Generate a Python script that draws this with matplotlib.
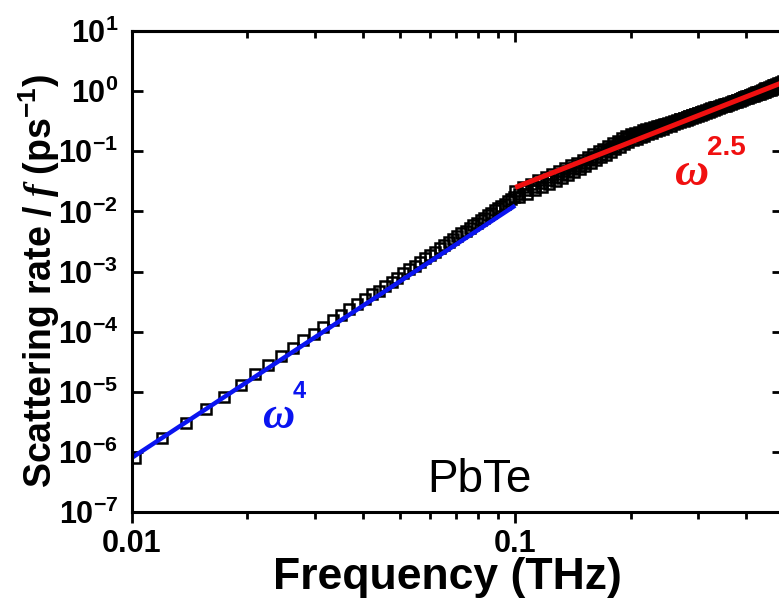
import numpy as np
import matplotlib
matplotlib.use('Agg')
import matplotlib.pyplot as plt
from matplotlib.ticker import FuncFormatter, NullFormatter, NullLocator, LogLocator

plt.rcParams['font.family'] = ['Liberation Sans', 'DejaVu Sans']
plt.rcParams['mathtext.fontset'] = 'custom'
plt.rcParams['mathtext.rm'] = 'Liberation Sans'
plt.rcParams['mathtext.bf'] = 'Liberation Sans:bold'
plt.rcParams['mathtext.it'] = 'Liberation Serif:italic:bold'

# --- low-frequency points (single branch), THz and ps^-1 ---
freq_low = [0.0102, 0.0120, 0.0138, 0.0156, 0.0174, 0.0192, 0.0209, 0.0227, 0.0245, 0.0263,
            0.0280, 0.0298, 0.0316, 0.0334, 0.0351, 0.0369, 0.0387, 0.0405, 0.0422, 0.0440,
            0.0458, 0.0476, 0.0493, 0.0511, 0.0529, 0.0547, 0.0565, 0.0582, 0.0600, 0.0618,
            0.0636, 0.0653, 0.0671, 0.0689, 0.0707, 0.0724, 0.0742, 0.0760, 0.0778, 0.0796,
            0.0813, 0.0831, 0.0849, 0.0867, 0.0884, 0.0902, 0.0920, 0.0938, 0.0955, 0.0973,
            0.0991]
rate_low = [7.8e-7, 1.7e-6, 3.0e-6, 5.2e-6, 8.3e-6, 1.3e-5, 1.95e-5, 2.8e-5, 3.9e-5, 5.4e-5,
            7.2e-5, 9.2e-5, 1.2e-4, 1.55e-4, 1.9e-4, 2.4e-4, 2.9e-4, 3.5e-4, 4.15e-4, 4.8e-4,
            5.8e-4, 6.8e-4, 7.9e-4, 9.3e-4, 1.08e-3, 1.25e-3, 1.44e-3, 1.65e-3, 1.88e-3, 2.14e-3,
            2.43e-3, 2.73e-3, 3.08e-3, 3.46e-3, 3.87e-3, 4.30e-3, 4.80e-3, 5.33e-3, 5.90e-3, 6.53e-3,
            7.16e-3, 7.89e-3, 8.67e-3, 9.51e-3, 1.04e-2, 1.13e-2, 1.24e-2, 1.35e-2, 1.46e-2, 1.58e-2,
            1.71e-2]

# --- high-frequency points, upper branch ---
freq_up = [0.100, 0.105, 0.110, 0.115, 0.120, 0.125, 0.130, 0.135, 0.140, 0.145,
           0.150, 0.155, 0.160, 0.165, 0.170, 0.175, 0.180, 0.185, 0.190, 0.195,
           0.200, 0.205, 0.210, 0.215, 0.220, 0.225, 0.230, 0.235, 0.240, 0.245,
           0.250, 0.255, 0.260, 0.265, 0.270, 0.275, 0.280, 0.285, 0.290, 0.295,
           0.300, 0.305, 0.310, 0.315, 0.320, 0.325, 0.330, 0.335, 0.340, 0.345,
           0.350, 0.355, 0.360, 0.365, 0.370, 0.375, 0.380, 0.385, 0.390, 0.395,
           0.400, 0.405, 0.410, 0.415, 0.420, 0.425, 0.430, 0.435, 0.440, 0.445,
           0.450, 0.455, 0.460, 0.465, 0.470, 0.475, 0.480, 0.485, 0.490, 0.495,
           0.500]
rate_up = [0.0219, 0.0252, 0.0289, 0.0329, 0.0373, 0.0420, 0.0471, 0.0526, 0.0585, 0.0649,
           0.0721, 0.0807, 0.0901, 0.1002, 0.111, 0.123, 0.1355, 0.149, 0.163, 0.1786,
           0.194, 0.2035, 0.213, 0.223, 0.233, 0.243, 0.2535, 0.264, 0.275, 0.286,
           0.297, 0.308, 0.320, 0.332, 0.344, 0.357, 0.371, 0.384, 0.398, 0.412,
           0.427, 0.442, 0.457, 0.472, 0.488, 0.503, 0.519, 0.535, 0.552, 0.568,
           0.585, 0.602, 0.620, 0.639, 0.662, 0.686, 0.711, 0.736, 0.761, 0.787,
           0.814, 0.841, 0.869, 0.897, 0.925, 0.955, 0.985, 1.015, 1.047, 1.078,
           1.110, 1.143, 1.177, 1.211, 1.245, 1.280, 1.316, 1.353, 1.390, 1.428,
           1.467]

# --- high-frequency points, lower and middle branches (same frequencies) ---
freq_lo = [0.1025, 0.1075, 0.1125, 0.1175, 0.1225, 0.1275, 0.1325, 0.1375, 0.1425, 0.1475,
           0.1525, 0.1575, 0.1625, 0.1675, 0.1725, 0.1775, 0.1825, 0.1875, 0.1925, 0.1975,
           0.2025, 0.2075, 0.2125, 0.2175, 0.2225, 0.2275, 0.2325, 0.2375, 0.2425, 0.2475,
           0.255, 0.260, 0.265, 0.270, 0.275, 0.280, 0.285, 0.290, 0.295, 0.300,
           0.305, 0.310, 0.315, 0.320, 0.325, 0.330, 0.335, 0.340, 0.345, 0.350,
           0.355, 0.360, 0.365, 0.370, 0.375, 0.380, 0.385, 0.390, 0.395, 0.400,
           0.405, 0.410, 0.415, 0.420, 0.425, 0.430, 0.435, 0.440, 0.445, 0.450,
           0.455, 0.460, 0.465, 0.470, 0.475, 0.480, 0.485, 0.490, 0.495, 0.500]
rate_lo = [0.01706, 0.01963, 0.02249, 0.02555, 0.0289, 0.0326, 0.0365, 0.0407, 0.0453, 0.0502,
           0.0565, 0.0634, 0.0708, 0.0790, 0.0878, 0.0973, 0.1074, 0.1183, 0.130, 0.1426,
           0.1532, 0.1626, 0.1722, 0.1823, 0.1923, 0.2030, 0.2138, 0.2253, 0.2367, 0.2487,
           0.2673, 0.2802, 0.2931, 0.3069, 0.320, 0.3337, 0.3475, 0.3616, 0.3760, 0.3908,
           0.4064, 0.4215, 0.4375, 0.4533, 0.470, 0.4866, 0.5035, 0.5214, 0.539, 0.557,
           0.5757, 0.5943, 0.614, 0.6327, 0.652, 0.672, 0.692, 0.7124, 0.733, 0.7543,
           0.7756, 0.797, 0.819, 0.8414, 0.864, 0.8874, 0.911, 0.9346, 0.9587, 0.9827,
           1.0075, 1.033, 1.0583, 1.084, 1.110, 1.136, 1.163, 1.190, 1.218, 1.246]
rate_mid = [0.01962, 0.02257, 0.02586, 0.02938, 0.03324, 0.03749, 0.04198, 0.04681, 0.0521, 0.05773,
            0.06498, 0.07291, 0.08142, 0.09085, 0.1010, 0.1119, 0.1235, 0.1360, 0.1495, 0.1640,
            0.1762, 0.1870, 0.1980, 0.2096, 0.2211, 0.2335, 0.2459, 0.2591, 0.2722, 0.2860,
            0.2940, 0.3082, 0.3224, 0.3376, 0.3520, 0.3671, 0.3823, 0.3978, 0.4136, 0.4299,
            0.4470, 0.4637, 0.4813, 0.4986, 0.5170, 0.5353, 0.5539, 0.5735, 0.5929, 0.6127,
            0.6160, 0.6359, 0.6570, 0.6770, 0.6976, 0.7190, 0.7404, 0.7623, 0.7843, 0.8071,
            0.8299, 0.8528, 0.8763, 0.9003, 0.9245, 0.9495, 0.9748, 1.0000, 1.0258, 1.0515,
            1.0780, 1.1053, 1.1324, 1.1599, 1.1877, 1.2155, 1.2444, 1.2733, 1.3033, 1.3332]

# power-law guide lines (end points)
fit4_f = [0.01, 0.1]
fit4_r = [8.0e-7, 1.25e-2]
fit25_f = [0.1, 0.5]
fit25_r = [0.025, 1.40]

x_range = [0.01, 0.5]
y_range = [1e-7, 1e1]

BLUE = '#0a14f0'
RED = '#f01010'

fig = plt.figure(figsize=(7.79, 6.07), dpi=100)
ax = fig.add_axes([132 / 779, 95 / 607, 651 / 779, 481 / 607])

sq = dict(ls='none', marker='s', ms=7.6, mfc='none', mec='black', mew=1.8)
ax.plot(freq_low, rate_low, **sq)
ax.plot(freq_up, rate_up, **sq)
ax.plot(freq_lo, rate_mid, **sq)
ax.plot(freq_lo, rate_lo, **sq)

ax.plot(fit4_f, fit4_r, color=BLUE, lw=3.2, solid_capstyle='butt')
ax.plot(fit25_f, fit25_r, color=RED, lw=3.6, solid_capstyle='butt')

ax.set_xscale('log')
ax.set_yscale('log')
ax.set_xlim(x_range)
ax.set_ylim(y_range)

for s in ax.spines.values():
    s.set_linewidth(2.2)

ax.xaxis.set_major_formatter(FuncFormatter(lambda v, p: f'{v:g}'))
ax.xaxis.set_minor_formatter(NullFormatter())
ax.yaxis.set_major_locator(LogLocator(base=10, numticks=20))
ax.yaxis.set_minor_locator(NullLocator())
ax.yaxis.set_major_formatter(FuncFormatter(
    lambda v, p: r'$\mathbf{10^{%d}}$' % int(round(np.log10(v)))))

ax.tick_params(axis='x', which='major', direction='out', length=8, width=2,
               labelsize=22, pad=4, top=False)
ax.tick_params(axis='x', which='minor', direction='out', length=5, width=2, top=False)
ax.tick_params(axis='y', which='major', direction='in', length=8, width=2,
               labelsize=22, pad=10, right=True)
for lab in ax.get_xticklabels():
    lab.set_fontweight('bold')

# top axis: ticks pointing inward, no labels
top = ax.secondary_xaxis('top')
top.spines['top'].set_linewidth(2.2)
top.tick_params(which='major', direction='in', length=8, width=2, labeltop=False)
top.tick_params(which='minor', direction='in', length=5, width=2)
top.xaxis.set_major_formatter(NullFormatter())
top.xaxis.set_minor_formatter(NullFormatter())

ax.set_xlabel('Frequency (THz)', fontsize=32, fontweight='bold')
ax.xaxis.set_label_coords(0.485, -0.0936)
ax.set_ylabel(r'$\mathbf{Scattering\ rate\ /\ }\mathit{f}\mathbf{\ (ps^{-1})}$',
              fontsize=27)
ax.yaxis.set_label_coords(-0.108, 0.48)

ax.text(0.0589, 2.13e-7, 'PbTe', fontsize=33, ha='left', va='baseline')

ax.text(0.0218, 2.5e-6, '\u03c9', fontsize=32, color=BLUE, style='italic',
        fontweight='bold', family='Liberation Serif', ha='left', va='baseline')
ax.text(0.0262, 7.8e-6, '4', fontsize=17, color=BLUE, fontweight='bold',
        ha='left', va='baseline')
ax.text(0.2618, 0.0274, '\u03c9', fontsize=34, color=RED, style='italic',
        fontweight='bold', family='Liberation Serif', ha='left', va='baseline')
ax.text(0.3172, 0.0865, '2.5', fontsize=20, color=RED, fontweight='bold',
        ha='left', va='baseline')

fig.savefig('out.png', dpi=100)
